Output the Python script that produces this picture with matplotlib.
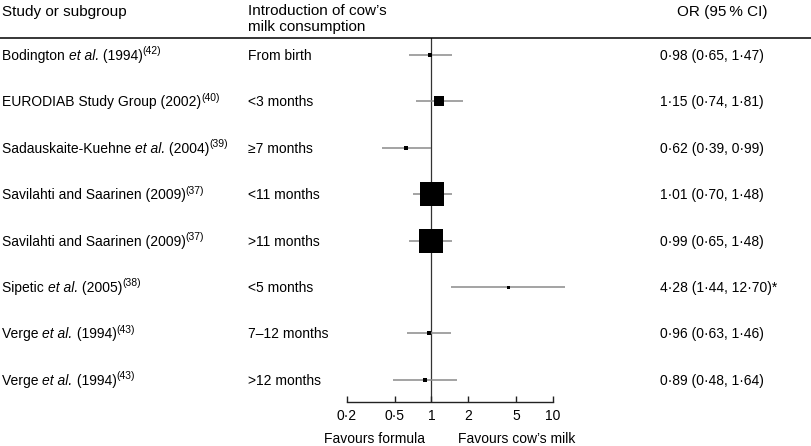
import matplotlib
matplotlib.use("Agg")
import matplotlib.pyplot as plt

plt.rcParams['font.family'] = ['Liberation Sans', 'DejaVu Sans']

# ---------------- data ----------------
# each study label: (plain text, italic part, text after italic, superscript reference)
study_main = ["Bodington ", "EURODIAB Study Group (2002)", "Sadauskaite-Kuehne ",
              "Savilahti and Saarinen (2009)", "Savilahti and Saarinen (2009)",
              "Sipetic ", "Verge ", "Verge "]
study_italic = ["et al.", "", "et al.", "", "", "et al.", "et al.", "et al."]
study_year = [" (1994)", "", " (2004)", "", "", " (2005)", " (1994)", " (1994)"]
study_ref = ["(42)", "(40)", "(39)", "(37)", "(37)", "(38)", "(43)", "(43)"]
introduction = ["From birth", "<3 months", "\u22657 months", "<11 months",
                ">11 months", "<5 months", "7\u201312 months", ">12 months"]
odds_ratio = [0.98, 1.15, 0.62, 1.01, 0.99, 4.28, 0.96, 0.89]
ci_low = [0.65, 0.74, 0.39, 0.70, 0.65, 1.44, 0.63, 0.48]
ci_high = [1.47, 1.81, 0.99, 1.48, 1.48, 12.70, 1.46, 1.64]
or_labels = ["0\u00b798 (0\u00b765, 1\u00b747)", "1\u00b715 (0\u00b774, 1\u00b781)",
             "0\u00b762 (0\u00b739, 0\u00b799)", "1\u00b701 (0\u00b770, 1\u00b748)",
             "0\u00b799 (0\u00b765, 1\u00b748)", "4\u00b728 (1\u00b744, 12\u00b770)*",
             "0\u00b796 (0\u00b763, 1\u00b746)", "0\u00b789 (0\u00b748, 1\u00b764)"]
weights = [5, 10.5, 5, 24, 24.5, 3, 4.5, 5]   # relative box size (study weight)
tick_values = [0.2, 0.5, 1, 2, 5, 10]
tick_labels = ["0\u00b72", "0\u00b75", "1", "2", "5", "10"]

# ---------------- layout ----------------
W, H = 812, 446
fig = plt.figure(figsize=(W / 100, H / 100), dpi=100)
renderer = fig.canvas.get_renderer()

def fx(px):
    return px / W

def fy(py):
    return 1 - py / H

ax_left, ax_right = 346.7, 552.7
ax_top, ax_bot = 37.5, 402
ax = fig.add_axes([fx(ax_left), fy(ax_bot), fx(ax_right - ax_left), (ax_bot - ax_top) / H])
ax.set_xscale('log')
ax.set_xlim(0.2, 10)
ax.set_ylim(ax_bot, ax_top)

row0, row_step = 55, 46.4
rows = [row0 + i * row_step for i in range(len(study_main))]

ax.axvline(1, color='#333333', lw=0.9, zorder=1)
for y, o, lo, hi, w in zip(rows, odds_ratio, ci_low, ci_high, weights):
    ax.plot([lo, hi], [y, y], color='#8a8a8a', lw=1.1, solid_capstyle='butt', clip_on=False, zorder=2)
    ax.plot([o], [y], marker='s', color='black', markersize=w * 0.72, mew=0, clip_on=False, zorder=3)

for s in ['top', 'right', 'left']:
    ax.spines[s].set_visible(False)
ax.spines['bottom'].set_linewidth(1.0)
ax.spines['bottom'].set_color('#222222')
ax.set_yticks([])
ax.set_xticks(tick_values)
ax.set_xticklabels(tick_labels, fontsize=10)
ax.xaxis.set_minor_locator(matplotlib.ticker.NullLocator())
ax.tick_params(axis='x', direction='in', length=4.5, width=1.0, pad=5, color='#222222')

# header
hdr = 11
fig.text(fx(2), fy(12), "Study or subgroup", fontsize=hdr, va='center', ha='left')
fig.text(fx(248), fy(11), "Introduction of cow\u2019s", fontsize=hdr, va='center', ha='left')
fig.text(fx(248), fy(27.5), "milk consumption", fontsize=hdr, va='center', ha='left')
fig.text(fx(677), fy(12), "OR (95\u2009% CI)", fontsize=hdr, va='center', ha='left')
fig.add_artist(plt.Line2D([0, 1], [fy(37.5), fy(37.5)], color='black', lw=1.1,
                          transform=fig.transFigure))


def put_pieces(x_px, base_px, pieces):
    """pieces: list of (text, fontsize, style, raise_px)"""
    x = x_px
    for txt, fs, style, rise in pieces:
        if not txt:
            continue
        t = fig.text(fx(x), fy(base_px - rise), txt, fontsize=fs, fontstyle=style,
                     va='baseline', ha='left')
        bb = t.get_window_extent(renderer=renderer)
        x += bb.width


# rows
for y, m, it, yr, ref, intro, lab in zip(rows, study_main, study_italic, study_year,
                                         study_ref, introduction, or_labels):
    base = y + 5
    put_pieces(2, base, [(m, 10, 'normal', 0), (it, 10, 'italic', 0),
                         (yr, 10, 'normal', 0), (ref, 7.5, 'normal', 5.5)])
    fig.text(fx(248), fy(base), intro, fontsize=10, va='baseline', ha='left')
    fig.text(fx(660), fy(base), lab, fontsize=10, va='baseline', ha='left')

fig.text(fx(425), fy(439), "Favours formula", fontsize=10, va='center', ha='right')
fig.text(fx(458), fy(439), "Favours cow\u2019s milk", fontsize=10, va='center', ha='left')

fig.savefig("out.png", dpi=100)
